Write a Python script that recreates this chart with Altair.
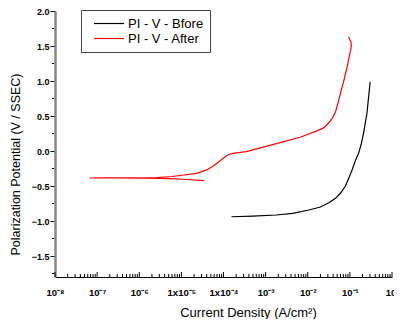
import altair as alt
import pandas as pd

# Before (black) series: current density (A/cm^2), potential (V)
before_I = [1.55e-4, 5.0e-4, 1.78e-3, 4.37e-3, 1.07e-2, 2.0e-2, 3.16e-2, 4.57e-2,
            6.03e-2, 7.83e-2, 9.55e-2, 0.1127, 0.1349, 0.161, 0.186, 0.211, 0.254, 0.303]
before_V = [-0.939, -0.929, -0.914, -0.89, -0.843, -0.80, -0.74, -0.676,
            -0.60, -0.50, -0.38, -0.271, -0.14, -0.033, 0.10, 0.252, 0.538, 0.99]

# After (red) series, in scan order
after_I = [3.5e-5, 1.35e-5, 5.4e-6, 1.55e-6, 3.0e-7, 6.6e-8,
           1.02e-7, 5.2e-7, 2.65e-6, 5.97e-6, 1.15e-5, 2.32e-5, 3.98e-5, 5.82e-5,
           7.62e-5, 1.0e-4, 1.31e-4, 1.82e-4, 3.48e-4, 9.2e-4, 2.58e-3, 6.84e-3,
           1.54e-2, 2.38e-2, 3.12e-2, 3.87e-2, 4.56e-2, 5.08e-2, 5.66e-2, 6.31e-2,
           7.03e-2, 7.83e-2, 8.73e-2, 9.73e-2, 0.1057, 0.1084, 0.1057, 9.73e-2, 9.37e-2]
after_V = [-0.424, -0.407, -0.396, -0.388, -0.386, -0.386,
           -0.385, -0.384, -0.38, -0.364, -0.343, -0.32, -0.27, -0.21,
           -0.157, -0.10, -0.05, -0.03, -0.01, 0.06, 0.13, 0.20,
           0.28, 0.33, 0.40, 0.47, 0.56, 0.66, 0.77, 0.88,
           0.98, 1.10, 1.22, 1.36, 1.46, 1.51, 1.56, 1.60, 1.63]

series_names = ["PI - V - Bfore", "PI - V - After"]
series_colors = ["black", "red"]

x_major = [1e-8, 1e-7, 1e-6, 1e-5, 1e-4, 1e-3, 1e-2, 1e-1, 1.0]
x_major_labels = ["10⁻⁸", "10⁻⁷", "10⁻⁶", "1x10⁻⁵", "1x10⁻⁴", "10⁻³", "10⁻²", "10⁻¹", "10⁰"]
x_minor = [m * d for d in x_major[:-1] for m in range(2, 10)]
y_major = [-1.5, -1.0, -0.5, 0.0, 0.5, 1.0, 1.5, 2.0]
y_minor = [-1.75, -1.25, -0.75, -0.25, 0.25, 0.75, 1.25, 1.75]

rows = []
for i, (c, v) in enumerate(zip(before_I, before_V)):
    rows.append({"series": series_names[0], "I": c, "V": v, "ord": i})
for i, (c, v) in enumerate(zip(after_I, after_V)):
    rows.append({"series": series_names[1], "I": c, "V": v, "ord": i})
df = pd.DataFrame(rows)

FONT = "Liberation Sans"
W, H = 337, 266

label_array = "[" + ", ".join(f"'{lab}'" for lab in x_major_labels) + "]"
label_expr = label_array + "[round(log(datum.value)/LN10) + 8]"

xscale = alt.Scale(type="log", domain=[1e-8, 1.0])
yscale = alt.Scale(domain=[-1.8, 2.0], nice=False, zero=False)

x_axis = alt.Axis(values=x_major, tickSize=0, domainColor="black", domainWidth=1,
                  labelExpr=label_expr, labelOverlap=False,
                  labelFont=FONT, labelFontSize=9.5, labelFontWeight="bold",
                  labelColor="black", labelPadding=10, labelFlush=False,
                  title="Current Density (A/cm²)", titleFont=FONT, titleFontSize=13,
                  titleFontWeight="normal", titleColor="black",
                  titleX=193, titleY=39, titleBaseline="alphabetic",
                  grid=False)
y_axis = alt.Axis(values=y_major, format=".1f", tickSize=5, tickColor="black",
                  tickWidth=1, domainColor="#888888", domainWidth=2.5,
                  labelOverlap=False, labelFlush=False,
                  labelFont=FONT, labelFontSize=9, labelFontWeight="bold",
                  labelColor="black", labelPadding=1,
                  title="Polarization Potential (V / SSEC)", titleFont=FONT,
                  titleFontSize=12.5, titleFontWeight="normal", titleColor="black",
                  titleAngle=270, titleX=-36, titleY=153, titleBaseline="alphabetic",
                  grid=False)

lines = alt.Chart(df).mark_line(strokeWidth=1.2, clip=True).encode(
    x=alt.X("I:Q", scale=xscale, axis=x_axis),
    y=alt.Y("V:Q", scale=yscale, axis=y_axis),
    color=alt.Color("series:N",
                    scale=alt.Scale(domain=series_names, range=series_colors),
                    legend=alt.Legend(title=None, orient="none", legendX=26, legendY=-1,
                                      symbolType="M-2.3,0H2.3", symbolSize=169,
                                      symbolStrokeWidth=1.2, symbolOffset=14.5,
                                      labelFont=FONT, labelFontSize=13, labelColor="black",
                                      labelOffset=11.5,
                                      strokeColor="#444444", padding=6,
                                      rowPadding=0)),
    order="ord:Q",
)

xmaj_df = pd.DataFrame({"t": x_major})
xmin_df = pd.DataFrame({"t": x_minor})
ymin_df = pd.DataFrame({"t": y_minor})

xmaj_ticks = alt.Chart(xmaj_df).mark_rule(color="black", strokeWidth=1).encode(
    x=alt.X("t:Q", scale=xscale, axis=x_axis), y=alt.value(H), y2=alt.value(H - 5))
xmin_ticks = alt.Chart(xmin_df).mark_rule(color="black", strokeWidth=1).encode(
    x=alt.X("t:Q", scale=xscale, axis=x_axis), y=alt.value(H), y2=alt.value(H - 3))
ymin_ticks = alt.Chart(ymin_df).mark_rule(color="black", strokeWidth=1).encode(
    y=alt.Y("t:Q", scale=yscale, axis=y_axis), x=alt.value(-3), x2=alt.value(-1))

chart = alt.layer(lines, xmaj_ticks, xmin_ticks, ymin_ticks).properties(
    width=W, height=H,
    autosize=alt.AutoSizeParams(type="none"),
    padding={"left": 47, "top": 3, "right": 2, "bottom": 42},
).configure_view(stroke=None)

chart.save("out.html", embed_options={"renderer": "svg", "actions": False})
